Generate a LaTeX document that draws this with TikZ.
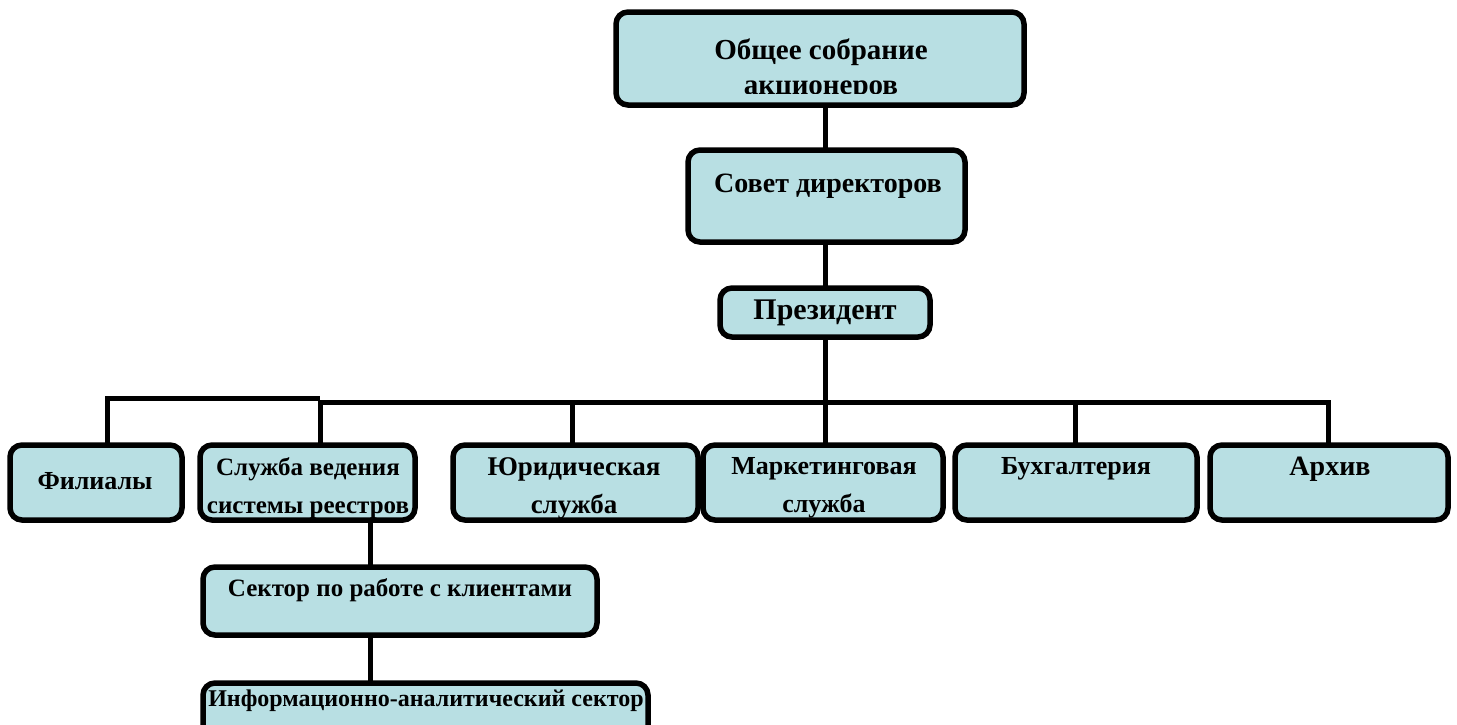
\documentclass[tikz,border=0pt]{standalone}
\usepackage{fontspec}
\setmainfont{Liberation Serif}
\definecolor{boxfill}{RGB}{184,223,227}
\begin{document}
\begin{tikzpicture}[x=1pt,y=-1pt,
  box/.style={draw=black, fill=boxfill, line width=5.5pt, rounded corners=12pt, inner sep=0pt, outer sep=0pt},
  txt/.style={font=\fontsize{26}{38}\selectfont\bfseries, align=center, inner sep=0pt},
  conn/.style={line width=5pt}]
\useasboundingbox (0,0) rectangle (1457,724);
\clip (0,0) rectangle (1457,724);
% boxes
\node[box, minimum width=408pt, minimum height=93pt] (top) at (820,58.5) {};
\node[box, minimum width=277pt, minimum height=92pt] (sov) at (826.5,196) {};
\node[box, minimum width=210pt, minimum height=49pt] (pres) at (825,312.5) {};
\node[box, minimum width=172pt, minimum height=75pt] (fil) at (96,482.5) {};
\node[box, minimum width=215pt, minimum height=75pt] (sl) at (307.5,482.5) {};
\node[box, minimum width=245pt, minimum height=75pt] (jur) at (575.5,482.5) {};
\node[box, minimum width=240pt, minimum height=75pt] (mark) at (823,482.5) {};
\node[box, minimum width=242pt, minimum height=75pt] (buh) at (1076,482.5) {};
\node[box, minimum width=238pt, minimum height=75pt] (arch) at (1329,482.5) {};
\node[box, minimum width=394pt, minimum height=68pt] (sec) at (400,601) {};
\node[box, minimum width=445pt, minimum height=55pt] (inf) at (425.5,710.5) {};
% texts
\begin{scope}
\clip (620,16) rectangle (1020,93);
\node[txt, font=\fontsize{29}{35}\selectfont\bfseries, anchor=base] (ttop) at (821,94) {Общее собрание\\акционеров};
\end{scope}
\node[txt, font=\fontsize{28}{37}\selectfont\bfseries] (tsov) at (828,186) {Совет директоров};
\node[txt, font=\fontsize{30}{37}\selectfont\bfseries] (tpres) at (825,313) {Президент};
\node[txt] (tfil) at (95,481) {Филиалы};
\node[txt, font=\fontsize{25}{38}\selectfont\bfseries] (tsl) at (308,488) {Служба ведения\\системы реестров};
\node[txt, font=\fontsize{27}{38}\selectfont\bfseries] (tjur) at (574,488) {Юридическая\\служба};
\node[txt] (tmark) at (824,488) {Маркетинговая\\служба};
\node[txt] (tbuh) at (1076,469) {Бухгалтерия};
\node[txt, font=\fontsize{28}{37}\selectfont\bfseries] (tarch) at (1330,469) {Архив};
\node[txt, font=\fontsize{25}{37}\selectfont\bfseries] (tsec) at (400,590) {Сектор по работе с клиентами};
\node[txt, font=\fontsize{24}{37}\selectfont\bfseries] (tinf) at (426,701) {Информационно-аналитический сектор};
% connectors
\coordinate (busA) at (320,398);
\coordinate (busB) at (320,402);
\draw[conn] (top.south -| pres.south) -- (sov.north -| pres.south);
\draw[conn] (sov.south -| pres.north) -- (pres.north);
\draw[conn] (pres.south) -- (pres.south |- mark.north);
\draw[conn] ([xshift=11pt]fil.north) |- (busA);
\draw[conn] ([xshift=12.5pt]sl.north) -- (busB) -| ([xshift=-1pt]arch.north);
\draw[conn] ([xshift=-3.5pt]jur.north) -- ([xshift=-3.5pt]jur.north |- busB);
\draw[conn] ([xshift=-1pt]buh.north) -- ([xshift=-1pt]buh.north |- busB);
\draw[conn] ([xshift=62.5pt]sl.south) -- ([xshift=62.5pt]sl.south |- sec.north);
\draw[conn] ([xshift=-30pt]sec.south) -- ([xshift=-30pt]sec.south |- inf.north);
\end{tikzpicture}
\end{document}
